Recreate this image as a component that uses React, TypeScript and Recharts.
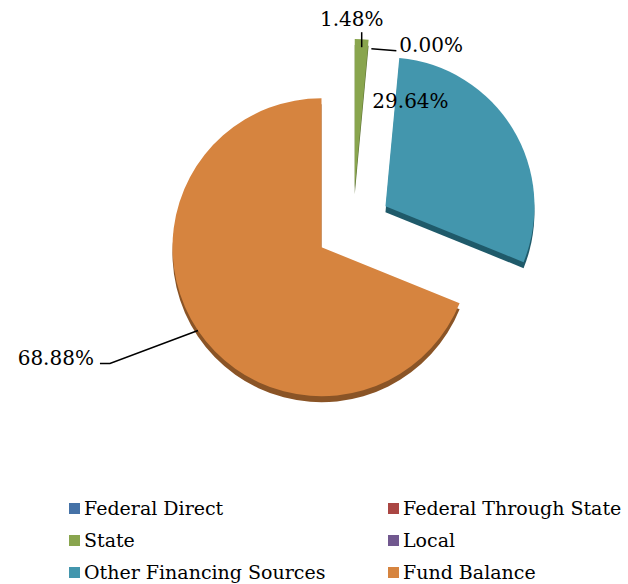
import { Cell, Legend, Pie, PieChart, Sector } from "recharts"

// revenue sources, share of total (%)
const NAMES = ["Federal Direct", "Federal Through State", "State", "Local", "Other Financing Sources", "Fund Balance"]
const SHARES = [0, 0, 1.48, 0, 29.64, 68.88]
const LABELLED = ["State", "Local", "Other Financing Sources", "Fund Balance"]

// excel 2007 palette, plus a darker tone for the slice sides
const COLORS = ["#4572a7", "#aa4643", "#89a54e", "#71588f", "#4396ad", "#d6843f"]
const SIDES = ["#2d4d73", "#74302e", "#5c7034", "#4c3b60", "#1f5a6a", "#8a5426"]

const W = 628
const H = 584
const CX = 353
const CY = 226
const R = 149
const EXPLODE = 38
const DEPTH = 6
const FONT = "'DejaVu Serif', serif"
const RAD = Math.PI / 180

const data = NAMES.map((name, i) => ({ name, value: SHARES[i] }))

// offset along a slice's mid angle (recharts angles: ccw from 3 o'clock)
const along = (angle: number, d: number) => [d * Math.cos(-angle * RAD), d * Math.sin(-angle * RAD)]

function ExplodedSlice(props: any) {
  const { cx, cy, midAngle, outerRadius, startAngle, endAngle, fill } = props
  if (startAngle === endAngle) return null
  const [dx, dy] = along(midAngle, EXPLODE)
  const side = SIDES[COLORS.indexOf(fill)] ?? "#555"
  return (
    <g>
      <Sector cx={cx + dx} cy={cy + dy + DEPTH} innerRadius={0} outerRadius={outerRadius} startAngle={startAngle} endAngle={endAngle} fill={side} stroke="none" />
      <Sector cx={cx + dx} cy={cy + dy} innerRadius={0} outerRadius={outerRadius} startAngle={startAngle} endAngle={endAngle} fill={fill} stroke="none" />
    </g>
  )
}

function renderLabel(p: any) {
  const name = p.name ?? p.payload?.name
  if (!LABELLED.includes(name)) return null
  const [dx, dy] = along(p.midAngle, EXPLODE)
  const vx = p.cx + dx
  const vy = p.cy + dy
  const [ox, oy] = along(p.midAngle, p.outerRadius)
  const px = vx + ox
  const py = vy + oy
  const text = `${Number(p.value).toFixed(2)}%`
  const common = { fontFamily: FONT, fontSize: 20, fill: "#000" }

  if (name === "State") {
    return (
      <g>
        <line x1={px} y1={py + 8} x2={px} y2={py - 7} stroke="#000" strokeWidth={1.5} />
        <text x={px - 10} y={py - 13} textAnchor="middle" {...common}>{text}</text>
      </g>
    )
  }
  if (name === "Local") {
    return (
      <g>
        <line x1={px + 1} y1={py + 9} x2={px + 26} y2={py + 11} stroke="#000" strokeWidth={1.5} />
        <text x={px + 29} y={py + 12} textAnchor="start" {...common}>{text}</text>
      </g>
    )
  }
  if (name === "Other Financing Sources") {
    return (
      <text x={vx + 25} y={vy - 98} textAnchor="middle" {...common}>{text}</text>
    )
  }
  // fund balance, leader out to the left
  const ex = px - 88
  const ey = py + 33
  return (
    <g>
      <polyline points={`${px},${py} ${ex},${ey} ${ex - 10},${ey}`} fill="none" stroke="#000" strokeWidth={1.5} />
      <text x={ex - 16} y={ey + 1} textAnchor="end" {...common}>{text}</text>
    </g>
  )
}

// two-column legend, kept in data order
function LegendGrid() {
  return (
    <div style={{ display: "grid", gridTemplateColumns: "319px 240px", paddingLeft: 69, fontFamily: FONT, fontSize: 19, color: "#000" }}>
      {NAMES.map((name, i) => (
        <div key={name} style={{ display: "flex", alignItems: "center", height: 32, whiteSpace: "nowrap" }}>
          <span style={{ width: 11, height: 11, background: COLORS[i], marginRight: 4, flex: "none" }} />
          <span>{name}</span>
        </div>
      ))}
    </div>
  )
}

export default function App() {
  return (
    <div style={{ position: "absolute", left: 0, top: 0, width: W, height: H, background: "#fff" }}>
      <PieChart width={W} height={H} margin={{ top: 0, right: 0, bottom: 0, left: 0 }}>
        <Pie
          data={data}
          dataKey="value"
          nameKey="name"
          cx={CX}
          cy={CY}
          outerRadius={R}
          startAngle={90}
          endAngle={-270}
          stroke="none"
          shape={ExplodedSlice}
          label={renderLabel}
          labelLine={false}
          isAnimationActive={false}
        >
          {data.map((d, i) => (
            <Cell key={d.name} fill={COLORS[i]} />
          ))}
        </Pie>
        <Legend content={<LegendGrid />} wrapperStyle={{ left: 0, top: 492, width: W }} />
      </PieChart>
    </div>
  )
}
